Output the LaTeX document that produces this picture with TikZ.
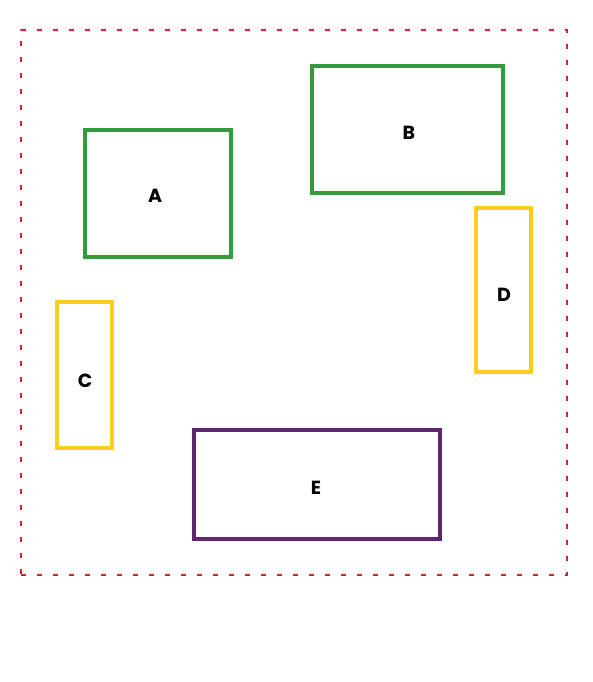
\documentclass[tikz,border=0pt]{standalone}
\usepackage{fontspec}
\setmainfont{Poppins}
\usepackage{tikz}
\usetikzlibrary{positioning}
\definecolor{framered}{HTML}{D9202A}
\definecolor{boxgreen}{HTML}{349A3A}
\definecolor{boxyellow}{HTML}{FFCC22}
\definecolor{boxpurple}{HTML}{5F266E}

\begin{document}
\begin{tikzpicture}[x=1pt,y=-1pt,
      region/.style={draw,line width=3.2pt,rectangle,inner sep=0pt},
      greenbox/.style={region,draw=boxgreen},
      yellowbox/.style={region,draw=boxyellow},
      purplebox/.style={region,draw=boxpurple},
      tag/.style={font=\fontsize{19}{22}\selectfont\bfseries},
      frame/.style={draw=framered,line width=2.6pt,dash pattern=on 5pt off 11pt,rectangle,inner sep=0pt}
    ]
      \useasboundingbox (0,0) rectangle (593,682);
      \node[frame,minimum width=546pt,minimum height=545pt] (area) at (294,302.5) {};
      \node[greenbox,minimum width=146pt,minimum height=127pt] (a) at (158,193.5) {};
      \node[greenbox,minimum width=191pt,minimum height=127pt] (b) at (407.5,129.5) {};
      \node[yellowbox,minimum width=55pt,minimum height=146pt] (c) at (84.5,375) {};
      \node[yellowbox,minimum width=55pt,minimum height=164pt] (d) at (503.5,290) {};
      \node[purplebox,minimum width=246pt,minimum height=109pt] (e) at (317,484.5) {};
      % labels
      \node[tag] (la) at (155,196) {A};
      \node[tag] (lb) at (409,133) {B};
      \node[tag] (lc) at (85,381) {C};
      \node[tag] (ld) at (504,295) {D};
      \node[tag] (le) at (316,488) {E};
    \end{tikzpicture}
\end{document}
